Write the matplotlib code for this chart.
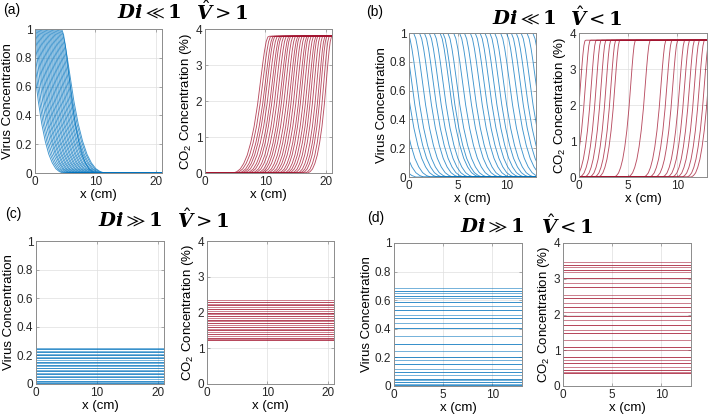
import numpy as np
import matplotlib
matplotlib.use("Agg")
from matplotlib import pyplot as plt

plt.rcParams['font.family'] = ['Liberation Sans', 'DejaVu Sans']
plt.rcParams['mathtext.fontset'] = 'custom'
plt.rcParams['mathtext.rm'] = 'Liberation Sans'
plt.rcParams['mathtext.it'] = 'Liberation Sans:italic'

W, H = 709, 420
BLUE = '#0072BD'
RED = '#A2142F'

# shape of one front: fraction of plateau vs. normalised position across the front
front_u = [0, 0.1, 0.2, 0.3, 0.4, 0.5, 0.6, 0.7, 0.75, 0.8, 0.85, 0.9, 0.95, 1.0, 1.05]
front_f = [0, 0.01, 0.03, 0.07, 0.13, 0.22, 0.34, 0.5, 0.6, 0.7, 0.8, 0.89, 0.96, 0.995, 1.0]

# (a) virus fronts: x where curve leaves 1, x where it reaches 0
va_top = [-1.2, -1.0, -0.8, -0.55, -0.35, -0.15, 0.05, 0.25, 0.45, 0.65, 0.85, 1.05, 1.25, 1.45, 1.65,
          1.85, 2.05, 2.25, 2.45, 2.65, 2.85, 3.05, 3.25, 3.45, 3.65, 3.85, 4.05, 4.25, 4.45]
va_bot = [4.6, 4.9, 5.2, 5.5, 5.8, 6.0, 6.3, 6.5, 6.8, 7.0, 7.3, 7.5, 7.8, 8.0, 8.3,
          8.5, 8.8, 9.0, 9.3, 9.5, 9.8, 10.0, 10.3, 10.5, 10.8, 11.0, 11.3, 11.5, 10.0]
# (a) CO2 fronts: x where curve leaves 0, x where it reaches the plateau
ca_lo = [4.7, 5.1, 5.6, 6.0, 6.4, 6.9, 7.3, 7.8, 8.2, 8.7, 9.1, 9.5, 10.0, 10.4, 10.9,
         11.3, 11.7, 12.2, 12.6, 13.1, 13.5, 13.9, 14.4, 14.8, 15.3, 15.7, 16.1, 16.6, 17.0]
ca_hi = [10.4, 10.8, 11.2, 11.5, 11.9, 12.3, 12.6, 13.0, 13.4, 13.8, 14.1, 14.5, 14.9, 15.3, 15.6,
         16.0, 16.4, 16.8, 17.1, 17.5, 17.9, 18.3, 18.6, 19.0, 19.4, 19.8, 20.1, 20.5, 20.9]
# (b) virus fronts
vb_top = [-3.3, -2.5, -1.8, -1.1, -0.6, -0.1, 0.5, 1.1, 1.6, 2.1, 2.6, 3.2, 3.5, 4.0, 4.6, 5.2,
          5.7, 6.3, 6.8, 7.3, 7.8, 8.3, 8.8, 9.4, 10.0, 10.5, 11.0, 11.5, 12.1, 12.7]
vb_bot = [0.7, 1.5, 2.2, 2.9, 3.4, 3.9, 4.5, 5.1, 5.6, 6.1, 6.6, 7.2, 7.5, 8.0, 8.6, 9.2,
          9.7, 10.3, 10.8, 11.3, 11.8, 12.3, 12.8, 13.4, 14.0, 14.5, 15.0, 15.5, 16.1, 16.7]
# (b) CO2 fronts
cb_lo = [-1.5, -1.0, -0.4, 0.1, 0.6, 1.1, 1.6, 2.0, 3.6, 5.0, 6.6, 7.2, 7.8, 8.5, 9.0, 9.5, 10.0, 10.5, 11.0, 11.4]
cb_hi = [0.6, 1.1, 1.7, 2.2, 2.7, 3.2, 3.7, 4.1, 5.7, 7.2, 8.8, 9.4, 10.0, 10.7, 11.2, 11.7, 12.2, 12.7, 13.2, 13.6]
co2_plateau = 3.8

# (c), (d): flat profiles, one level per curve
vc_levels = [0.252, 0.243, 0.233, 0.222, 0.211, 0.2, 0.19, 0.18, 0.168, 0.157, 0.146, 0.135, 0.124,
             0.113, 0.101, 0.09, 0.079, 0.068, 0.057, 0.046, 0.035, 0.024, 0.014, 0.005]
cc_levels = [2.34, 2.3, 2.25, 2.2, 2.15, 2.1, 2.05, 2.0, 1.95, 1.9, 1.85, 1.8, 1.75, 1.7, 1.65,
             1.6, 1.55, 1.5, 1.45, 1.4, 1.35, 1.3, 1.26, 1.22]
vd_levels = [0.684, 0.667, 0.649, 0.632, 0.614, 0.59, 0.56, 0.532, 0.496, 0.473, 0.443, 0.403, 0.349,
             0.297, 0.246, 0.204, 0.18, 0.152, 0.122, 0.098, 0.075, 0.052, 0.04, 0.028, 0.016, 0.009]
cd_levels = [3.46, 3.39, 3.33, 3.25, 3.18, 3.02, 2.89, 2.76, 2.55, 2.45, 2.33, 2.22, 2.08, 1.96,
             1.85, 1.7, 1.58, 1.47, 1.3, 1.1, 1.0, 0.82, 0.72, 0.63, 0.53, 0.46, 0.39, 0.35]

x_long = 21
x_short = 13


def make_ax(fig, l, t, r, b):
  ax = fig.add_axes([l / W, 1 - b / H, (r - l) / W, (b - t) / H])
  ax.grid(True, color='#dedede', lw=0.5)
  ax.set_axisbelow(True)
  for s in ax.spines.values():
    s.set_color('#8c8c8c')
    s.set_linewidth(0.7)
  ax.tick_params(direction='in', length=2.5, width=0.5, color='#8c8c8c', labelcolor='#262626',
                 labelsize=8.5, top=True, right=True, pad=2)
  return ax


def rising(ax, lo, hi, top, color):
  u = np.array(front_u)
  f = np.array(front_f)
  for a, b in zip(lo, hi):
    xs = np.concatenate([[a - 100], a + (b - a) * u, [b + 100]])
    ys = np.concatenate([[0], f, [1]]) * top
    ax.plot(xs, ys, color=color, lw=0.65, alpha=0.75)


def falling(ax, top_x, bot_x, color):
  u = np.array(front_u)
  f = np.array(front_f)
  for a, b in zip(top_x, bot_x):
    xs = np.concatenate([[b + 100], b - (b - a) * u, [a - 100]])
    ys = np.concatenate([[0], f, [1]])
    ax.plot(xs, ys, color=color, lw=0.65, alpha=0.75)


def flat(ax, levels, xmax, color):
  for i, v in enumerate(levels):
    ax.plot([0, xmax], [v, v], color=color, lw=0.7, alpha=0.55 + 0.25 * (i % 2))


def virus_axes(ax, xmax):
  ax.set_xlim(0, xmax)
  ax.set_ylim(0, 1)
  ax.set_yticks([0, 0.2, 0.4, 0.6, 0.8, 1])
  ax.set_yticklabels(['0', '0.2', '0.4', '0.6', '0.8', '1'])
  ax.set_ylabel('Virus Concentration', fontsize=9.5, labelpad=1)
  ax.set_xlabel('x (cm)', fontsize=9.5, labelpad=1)


def co2_axes(ax, xmax):
  ax.set_xlim(0, xmax)
  ax.set_ylim(0, 4)
  ax.set_yticks([0, 1, 2, 3, 4])
  ax.set_ylabel(r'CO$_2$ Concentration (%)', fontsize=9.5, labelpad=1)
  ax.set_xlabel('x (cm)', fontsize=9.5, labelpad=1)


fig = plt.figure(figsize=(W / 100, H / 100), dpi=100)

# (a)
ax = make_ax(fig, 35, 29, 162, 173)
falling(ax, va_top, va_bot, BLUE)
virus_axes(ax, x_long)
ax.set_xticks([0, 10, 20])
ax = make_ax(fig, 205, 29, 332, 173)
rising(ax, ca_lo, ca_hi, co2_plateau, RED)
co2_axes(ax, x_long)
ax.set_xticks([0, 10, 20])

# (b)
ax = make_ax(fig, 409, 33, 536, 177)
falling(ax, vb_top, vb_bot, BLUE)
virus_axes(ax, x_short)
ax.set_xticks([0, 5, 10])
ax = make_ax(fig, 579, 33, 707, 177)
rising(ax, cb_lo, cb_hi, co2_plateau, RED)
co2_axes(ax, x_short)
ax.set_xticks([0, 5, 10])

# (c)
ax = make_ax(fig, 36, 241, 164, 384)
flat(ax, vc_levels, x_long, BLUE)
virus_axes(ax, x_long)
ax.set_xticks([0, 10, 20])
ax = make_ax(fig, 207, 241, 334, 384)
flat(ax, cc_levels, x_long, RED)
co2_axes(ax, x_long)
ax.set_xticks([0, 10, 20])

# (d)
ax = make_ax(fig, 394, 243, 522, 386)
flat(ax, vd_levels, x_short, BLUE)
virus_axes(ax, x_short)
ax.set_xticks([0, 5, 10])
ax = make_ax(fig, 563, 243, 691, 386)
flat(ax, cd_levels, x_short, RED)
co2_axes(ax, x_short)
ax.set_xticks([0, 5, 10])

# panel letters and regime titles
def label(x, y, s, **kw):
  fig.text(x / W, 1 - y / H, s, ha='center', va='center', **kw)

for x, y, s in [(12, 10, '(a)'), (375, 12, '(b)'), (13, 214, '(c)'), (376, 218, '(d)')]:
  label(x, y, s, fontsize=10)

ttl = dict(fontsize=14, math_fontfamily='dejavuserif')
label(149, 12, r'$\mathbfit{Di} \ll \mathbf{1}$', **ttl)
label(222, 12, r'$\hat{\mathbfit{V}} > \mathbf{1}$', **ttl)
label(524, 18, r'$\mathbfit{Di} \ll \mathbf{1}$', **ttl)
label(596, 18, r'$\hat{\mathbfit{V}} < \mathbf{1}$', **ttl)
label(130, 220, r'$\mathbfit{Di} \gg \mathbf{1}$', **ttl)
label(203, 220, r'$\hat{\mathbfit{V}} > \mathbf{1}$', **ttl)
label(492, 226, r'$\mathbfit{Di} \gg \mathbf{1}$', **ttl)
label(567, 226, r'$\hat{\mathbfit{V}} < \mathbf{1}$', **ttl)

fig.savefig('out.png', dpi=100)
